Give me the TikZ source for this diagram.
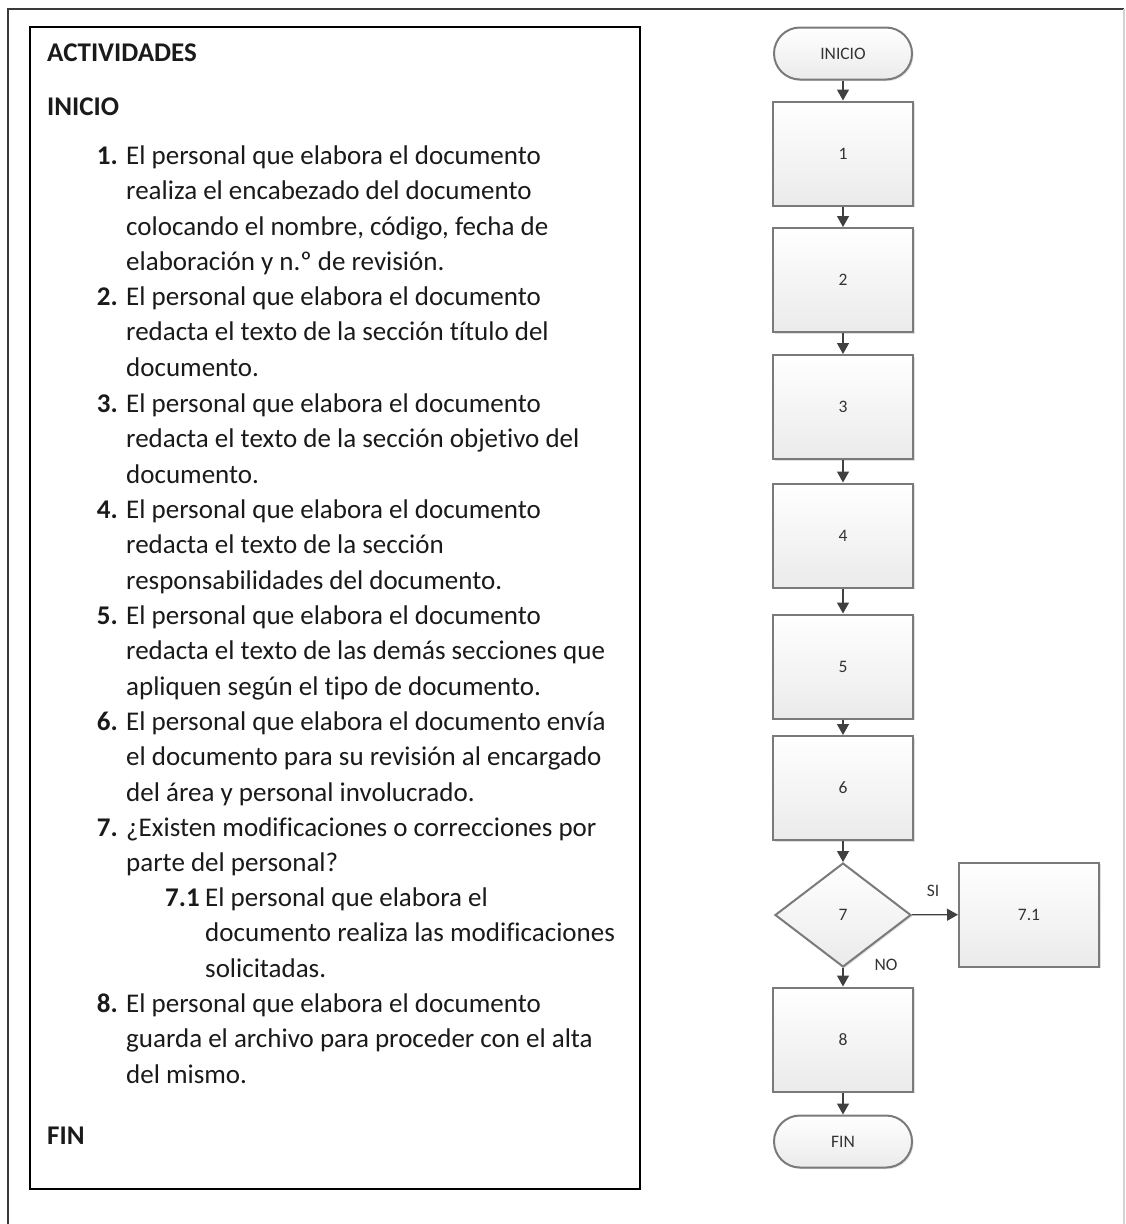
\documentclass[tikz,border=0pt]{standalone}
\usepackage{fontspec}
\setmainfont{Carlito}[Ligatures=NoCommon]
\usetikzlibrary{arrows.meta,shapes.geometric,shapes.misc,shadows}
\definecolor{bordergray}{HTML}{7A7A7A}
\definecolor{arrowgray}{HTML}{404040}
\definecolor{labelgray}{HTML}{333333}
\definecolor{framegray}{HTML}{3A3A3A}
\definecolor{bodytext}{HTML}{1A1A1A}
\begin{document}
\begin{tikzpicture}[x=1pt,y=-1pt,
  fcshape/.style={draw=bordergray, line width=2pt, top color=white, bottom color=gray!16,
    drop shadow={shadow xshift=1.5pt, shadow yshift=-1.5pt, opacity=0.25, fill=gray},
    font={\fontsize{17.5}{19}\selectfont}, text=labelgray, inner sep=0pt},
  procbox/.style={fcshape, rectangle, minimum width=140pt, minimum height=104pt},
  termbox/.style={fcshape, rounded rectangle, minimum width=138pt, minimum height=52pt},
  decbox/.style={fcshape, diamond, minimum width=136pt, minimum height=104pt},
  flow/.style={draw=arrowgray, line width=1.3pt, -{Triangle[width=12pt,length=11pt]}},
  flowlbl/.style={font={\fontsize{17.5}{19}\selectfont}, text=labelgray, inner sep=0pt},
  body/.style={font={\fontsize{27}{35.5}\selectfont}, text=bodytext, align=flush left, text width=505pt, inner sep=0pt, anchor=base west},
  num/.style={font={\fontsize{27}{35.5}\selectfont\bfseries}, text=bodytext, inner sep=0pt, anchor=base east},
  head/.style={font={\fontsize{27}{35.5}\selectfont\bfseries}, text=bodytext, inner sep=0pt, anchor=base west}
]
\useasboundingbox (0,0) rectangle (1126,1224);
% outer frame
\draw[framegray, line width=2pt] (8,1224) -- (8,9) -- (1124,9);
\draw[gray!35, line width=2pt] (1124,9) -- (1124,1224);
% activities box
\draw[black, line width=2pt] (30,27) rectangle (640,1189);

\node[head] (tact) at (47,61) {ACTIVIDADES};
\node[head] (tini) at (47,115) {INICIO};

\node[num] (n1) at (118,164) {1.};
\node[body] (t1) at (126,164) {El personal que elabora el documento\\realiza el encabezado del documento\\colocando el nombre, código, fecha de\\elaboración y n.º de revisión.};
\node[num] (n2) at (118,305) {2.};
\node[body] (t2) at (126,305) {El personal que elabora el documento\\redacta el texto de la sección título del\\documento.};
\node[num] (n3) at (118,412) {3.};
\node[body] (t3) at (126,412) {El personal que elabora el documento\\redacta el texto de la sección objetivo del\\documento.};
\node[num] (n4) at (118,518) {4.};
\node[body] (t4) at (126,518) {El personal que elabora el documento\\redacta el texto de la sección\\responsabilidades del documento.};
\node[num] (n5) at (118,624) {5.};
\node[body] (t5) at (126,624) {El personal que elabora el documento\\redacta el texto de las demás secciones que\\apliquen según el tipo de documento.};
\node[num] (n6) at (118,730) {6.};
\node[body] (t6) at (126,730) {El personal que elabora el documento envía\\el documento para su revisión al encargado\\del área y personal involucrado.};
\node[num] (n7) at (118,836) {7.};
\node[body] (t7) at (126,836) {¿Existen modificaciones o correcciones por\\parte del personal?};
\node[head] (n71) at (165,906) {7.1};
\node[body, text width=430pt] (t71) at (205,906) {El personal que elabora el\\documento realiza las modificaciones\\solicitadas.};
\node[num] (n8) at (118,1012) {8.};
\node[body] (t8) at (126,1012) {El personal que elabora el documento\\guarda el archivo para proceder con el alta\\del mismo.};
\node[head] (tfin) at (47,1144) {FIN};

% flowchart
\node[termbox] (ini) at (843,53.5) {INICIO};
\node[procbox] (p1) at (843,153.5) {1};
\node[procbox] (p2) at (843,280) {2};
\node[procbox] (p3) at (843,407) {3};
\node[procbox] (p4) at (843,535.5) {4};
\node[procbox] (p5) at (843,666.5) {5};
\node[procbox] (p6) at (843,788) {6};
\node[decbox] (d7) at (843,915) {7};
\node[procbox] (p71) at (1029,914.5) {7.1};
\node[procbox] (p8) at (843,1039.5) {8};
\node[termbox] (fin) at (843,1141.5) {FIN};

\draw[flow] (ini) -- (p1);
\draw[flow] (p1) -- (p2);
\draw[flow] (p2) -- (p3);
\draw[flow] (p3) -- (p4);
\draw[flow] (p4) -- (p5);
\draw[flow] (p5) -- (p6);
\draw[flow] (p6) -- (d7);
\draw[flow] (d7) -- (p71);
\draw[flow] (d7) -- (p8);
\draw[flow] (p8) -- (fin);
\node[flowlbl] (lsi) at (933,891) {SI};
\node[flowlbl] (lno) at (886,965) {NO};
\end{tikzpicture}
\end{document}
